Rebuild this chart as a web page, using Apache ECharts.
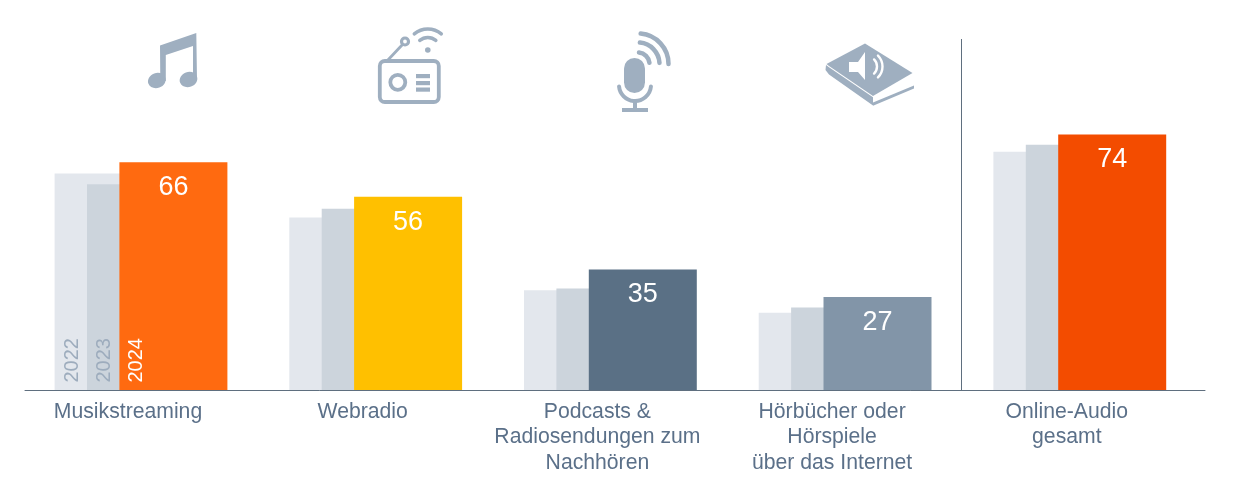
<!DOCTYPE html>
<html>
<head>
<meta charset="utf-8">
<style>html,body{margin:0;padding:0;background:#fff}#c{width:1239px;height:482px}</style>
<script src="https://cdn.jsdelivr.net/npm/echarts@6/dist/echarts.min.js"></script>
</head>
<body>
<div id="c"></div>
<script>
const categories = ['Musikstreaming','Webradio','Podcasts &\nRadiosendungen zum\nNachhören','Hörbücher oder\nHörspiele\nüber das Internet','Online-Audio\ngesamt'];
const years = ['2022','2023','2024'];
const values2022 = [62.7,50,29,22.5,69];
const values2023 = [59.6,52.5,29.5,24,71];
const values2024 = [66,56,35,27,74];
const colors2024 = ['#ff6a10','#ffc000','#5a7085','#8295a8','#f34c00'];
const icon = '#9fafc0';

const font = '"Liberation Sans", Arial, sans-serif';
const textColor = '#5b7089';

function poly(points, fill){
  return {type:'polygon', silent:true, z:10, shape:{points}, style:{fill}};
}
function seg(x1,y1,x2,y2,stroke,lw){
  return {type:'line', silent:true, z:10, shape:{x1,y1,x2,y2}, style:{stroke,lineWidth:lw,lineCap:'round'}};
}
function circle(cx,cy,r,fill,stroke,lw){
  return {type:'circle', silent:true, z:10, shape:{cx,cy,r}, style:{fill:fill||'none', stroke:stroke||'none', lineWidth:lw||0}};
}
function ell(cx,cy,rx,ry){
  return {type:'ellipse', silent:true, z:10, shape:{cx:0,cy:0,rx,ry}, x:cx, y:cy, rotation:0.35, style:{fill:icon}};
}
function arc(cx,cy,r,a0,a1,stroke,lw){
  return {type:'arc', silent:true, z:10, shape:{cx,cy,r,startAngle:a0,endAngle:a1,clockwise:true}, style:{fill:'none',stroke,lineWidth:lw,lineCap:'round'}};
}
function box(x,y,width,height,r,style){
  return {type:'rect', silent:true, z:10, shape:{x,y,width,height,r}, style};
}
const D = Math.PI/180;
const icons = [
  // music
  ell(156.8,80.5,9,7.5), ell(188.5,79.5,9,7.5),
  poly([[160,45.5],[196.3,33],[197,80],[193,80],[193,46],[165.8,55],[165.8,81],[160.3,81]], icon),
  // radio
  box(379.8,61,59,41,5,{fill:'none',stroke:icon,lineWidth:3.8}),
  circle(397.8,82.3,7.5,'none',icon,3.8),
  box(416,74,14,4.2,0,{fill:icon}), box(416,81,14,4.2,0,{fill:icon}), box(416,87.5,14,4.2,0,{fill:icon}),
  seg(387,61,403,44,icon,2.8),
  circle(405,41.5,3.5,'#fff',icon,3.2),
  circle(427.8,50,2.8,icon),
  arc(427.8,50,12.5,-130*D,-50*D,icon,3.5),
  arc(427.8,50,21,-130*D,-50*D,icon,3.5),
  // microphone
  box(624,58,21,35,10.5,{fill:icon}),
  arc(635,85,16,5*D,175*D,icon,4),
  poly([[633,100],[637,100],[637,108],[648,108],[648,112],[622,112],[622,108],[633,108]], icon),
  arc(638,64,11.5,-85*D,-6*D,icon,4.5),
  arc(638,64,21.5,-85*D,-3*D,icon,4.5),
  arc(638,64,30.5,-85*D,0,icon,4.5),
  // book
  poly([[865,43.5],[912.5,73],[873,96],[829,66],[826.5,64]], icon),
  poly([[826,65],[825.5,70],[829,74.5],[873,105.5],[873,97.2],[829,67.2]], icon),
  poly([[873,102.5],[914,85.5],[914,88.5],[873,105.8]], icon),
  poly([[849,62],[858,62],[865,52],[865,80],[858,72],[849,72]], '#fff'),
  arc(867,66.5,10,-45*D,45*D,'#fff',2.4),
  arc(867,66.5,15.5,-45*D,45*D,'#fff',2.4),
  // separator
  {type:'line', silent:true, z:5, shape:{x1:961.5,y1:39,x2:961.5,y2:390}, style:{stroke:'#5f6f7f',lineWidth:1}}
];

const chart = echarts.init(document.getElementById('c'), null, {renderer:'canvas'});
const barBase = {type:'bar', barWidth:108, barGap:'-70%', xAxisIndex:0, yAxisIndex:0};
const yearOffsets = [-68.5,-36.5,-4.5];
const yearColors = ['#9dacbd','#9dacbd','#ffffff'];
chart.setOption({
  animation:false,
  backgroundColor:'#fff',
  grid:[
    {left:23.65,width:1173.5,top:44.5,height:346},
    {left:25,width:1180,top:44.5,height:346}
  ],
  xAxis:[
    {type:'category',gridIndex:0,data:categories,axisLine:{show:false},axisTick:{show:false},
     axisLabel:{interval:0,margin:8.5,fontFamily:font,fontSize:21.2,lineHeight:25.5,color:textColor,padding:[0,26,0,0]}},
    {type:'value',gridIndex:1,min:0,max:1,z:5,splitLine:{show:false},axisTick:{show:false},axisLabel:{show:false},
     axisLine:{show:true,lineStyle:{color:'#5f6f7f',width:1}}}
  ],
  yAxis:[
    {type:'value',gridIndex:0,min:0,max:100,show:false},
    {type:'value',gridIndex:1,min:0,max:100,show:false}
  ],
  series:[
    {...barBase,name:'2022',data:values2022,itemStyle:{color:'#e3e7ed'}},
    {...barBase,name:'2023',data:values2023,itemStyle:{color:'#ccd4dc'}},
    {...barBase,name:'2024',
     data:values2024.map((v,i)=>({value:v,itemStyle:{color:colors2024[i]}})),
     label:{show:true,position:'insideTop',distance:12,color:'#fff',fontFamily:font,fontSize:27}},
    {type:'custom',xAxisIndex:0,yAxisIndex:0,z:6,silent:true,
     data:years.map((y,i)=>[0,0,y,i]),
     renderItem:function(p,api){
       const i=api.value(3), pt=api.coord([0,0]);
       return {type:'text',rotation:Math.PI/2,x:pt[0]+yearOffsets[i],y:pt[1]-8,
         style:{text:years[i],fill:yearColors[i],font:'20px '+font,textAlign:'left',textVerticalAlign:'middle'}};
     }}
  ],
  graphic:{elements:icons}
});
</script>
</body>
</html>
